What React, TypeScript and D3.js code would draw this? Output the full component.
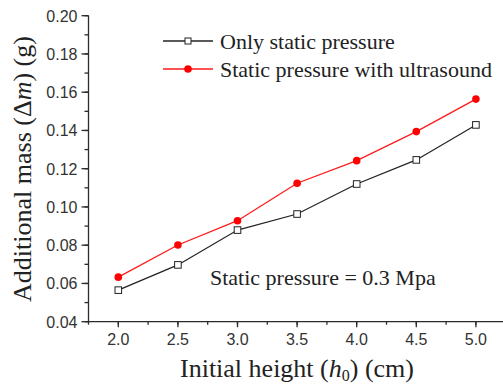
import React from "react";
import * as d3 from "d3";

// initial height h0 (cm)
const heights = [2.0, 2.5, 3.0, 3.5, 4.0, 4.5, 5.0];
// additional mass (g)
const onlyStatic = [0.0565, 0.0697, 0.0879, 0.0963, 0.112, 0.1246, 0.1429];
const withUltrasound = [0.0633, 0.0801, 0.0928, 0.1124, 0.1242, 0.1394, 0.1564];
const xTicks = [2.0, 2.5, 3.0, 3.5, 4.0, 4.5, 5.0];
const yTicks = [0.04, 0.06, 0.08, 0.1, 0.12, 0.14, 0.16, 0.18, 0.2];
const legendLabels = ["Only static pressure", "Static pressure with ultrasound"];

const SERIF = "Liberation Serif";
const SANS = "Liberation Sans";
const AXIS = "#2b2b2b";

const width = 503;
const height = 385;
const left = 88.5;
const bottom = 321.7;
const top = 15.7;

const x = d3.scaleLinear().domain([1.75, 5.25]).range([left, left + 3.5 * 119.2]);
const y = d3.scaleLinear().domain([0.04, 0.2]).range([bottom, top]);

const xMinor = d3.range(1.75, 5.3, 0.25);
const yMinor = d3.range(0.04, 0.2001, 0.01);

type Pt = [number, number];
const pts = (vals: number[]): Pt[] => heights.map((h, i) => [h, vals[i]]);
const line = d3.line<Pt>().x(d => x(d[0])).y(d => y(d[1]));

export default function App() {
  const blackPts = pts(onlyStatic);
  const redPts = pts(withUltrasound);
  const legend = [
    { label: legendLabels[0], color: "#222", marker: "square", y: 41 },
    { label: legendLabels[1], color: "#ff1a1a", marker: "circle", y: 69 },
  ];

  return (
    <svg
      width={width}
      height={height}
      style={{ position: "absolute", left: 0, top: 0, display: "block", background: "#fff" }}
    >
      {/* minor ticks */}
      {xMinor.map(v => (
        <line key={"xm" + v} x1={x(v)} x2={x(v)} y1={bottom} y2={bottom + 3} stroke={AXIS} strokeWidth={1.3} />
      ))}
      {yMinor.map(v => (
        <line key={"ym" + v} x1={left - 4} x2={left} y1={y(v)} y2={y(v)} stroke={AXIS} strokeWidth={1.3} />
      ))}
      {/* major ticks + labels */}
      {xTicks.map(v => (
        <g key={"x" + v}>
          <line x1={x(v)} x2={x(v)} y1={bottom} y2={bottom + 5.5} stroke={AXIS} strokeWidth={1.3} />
          <text
            x={x(v)}
            y={345}
            textAnchor="middle"
            fill="#333"
            style={{ fontFamily: SANS, fontSize: "16px" }}
          >
            {d3.format(".1f")(v)}
          </text>
        </g>
      ))}
      {yTicks.map(v => (
        <g key={"y" + v}>
          <line x1={left - 7} x2={left} y1={y(v)} y2={y(v)} stroke={AXIS} strokeWidth={1.3} />
          <text
            x={left - 11}
            y={y(v) + 5.8}
            textAnchor="end"
            fill="#333"
            style={{ fontFamily: SANS, fontSize: "16px" }}
          >
            {d3.format(".2f")(v)}
          </text>
        </g>
      ))}
      {/* axis lines */}
      <line x1={left} x2={width} y1={bottom} y2={bottom} stroke={AXIS} strokeWidth={1.3} />
      <line x1={left} x2={left} y1={top} y2={bottom} stroke={AXIS} strokeWidth={1.3} />

      {/* axis titles */}
      <text x={297} y={377} textAnchor="middle" fill="#222" style={{ fontFamily: SERIF, fontSize: "26px" }}>
        <tspan>Initial height (</tspan>
        <tspan style={{ fontStyle: "italic" }}>h</tspan>
        <tspan dy={4} style={{ fontSize: "16px" }}>0</tspan>
        <tspan dy={-4}>) (cm)</tspan>
      </text>
      <text
        transform="translate(31,169) rotate(-90)"
        textAnchor="middle"
        fill="#222"
        style={{ fontFamily: SERIF, fontSize: "26px" }}
      >
        <tspan>Additional mass (Δ</tspan>
        <tspan style={{ fontStyle: "italic" }}>m</tspan>
        <tspan>) (g)</tspan>
      </text>

      {/* series */}
      <path d={line(blackPts) ?? ""} fill="none" stroke="#222" strokeWidth={1.2} />
      <path d={line(redPts) ?? ""} fill="none" stroke="#ff1a1a" strokeWidth={1.3} />
      {blackPts.map(d => (
        <rect
          key={"s" + d[0]}
          x={x(d[0]) - 3.3}
          y={y(d[1]) - 3.3}
          width={6.6}
          height={6.6}
          fill="#fff"
          stroke="#222"
          strokeWidth={1}
        />
      ))}
      {redPts.map(d => (
        <circle key={"c" + d[0]} cx={x(d[0])} cy={y(d[1])} r={3.8} fill="#ff0000" />
      ))}

      {/* legend */}
      {legend.map(item => (
        <g key={item.label} transform={`translate(163,${item.y})`}>
          <line x1={0} x2={50} stroke={item.color} strokeWidth={1.3} />
          {item.marker === "square" ? (
            <rect x={22} y={-3} width={6} height={6} fill="#fff" stroke="#222" strokeWidth={1} />
          ) : (
            <circle cx={25} r={3.8} fill="#ff0000" />
          )}
          <text x={57} y={8} fill="#222" style={{ fontFamily: SERIF, fontSize: "22px" }}>
            {item.label}
          </text>
        </g>
      ))}

      {/* annotation */}
      <text x={210} y={285} fill="#222" style={{ fontFamily: SERIF, fontSize: "22px" }}>
        Static pressure = 0.3 Mpa
      </text>
    </svg>
  );
}
